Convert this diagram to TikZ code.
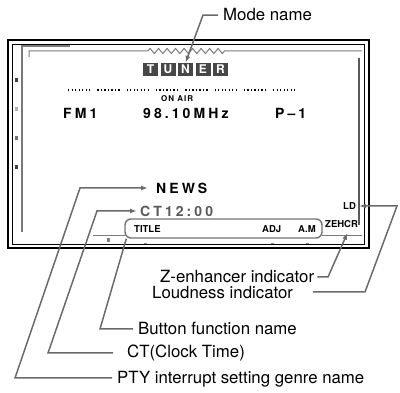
\documentclass[tikz,border=0pt]{standalone}
\usepackage{fontspec}
\setmainfont{TeX Gyre Heros}
\usetikzlibrary{arrows.meta,positioning,calc}

\definecolor{leadgray}{HTML}{6B6B6B}
\definecolor{rimgray}{HTML}{7A7A7A}
\newcommand{\lcdfont}{\fontsize{14}{16}\selectfont\bfseries\addfontfeature{LetterSpace=22}}

\begin{document}
\begin{tikzpicture}[x=1pt,y=-1pt,>={Latex[length=7pt,width=5pt]},
  lead/.style={draw=leadgray,line width=1.5pt},
  rim/.style={draw=rimgray,line width=1.4pt},
  lcd/.style={anchor=west,inner sep=0pt,font=\lcdfont},
  tag/.style={anchor=west,inner sep=0pt,font=\fontsize{9.5}{11}\selectfont\bfseries},
  call/.style={anchor=base west,inner sep=0pt,font=\fontsize{16.8}{20}\selectfont},
  modekey/.style={fill=black!72,text=white,minimum width=15pt,minimum height=13pt,inner sep=0pt,font=\fontsize{12}{12}\selectfont\bfseries}]
\useasboundingbox (0,0) rectangle (400,393);
% display frame
\draw[line width=2.5pt] (8,40) rectangle (369,248);
\draw[line width=0.9pt] (12,44) rectangle (364.5,244);
\draw[rim] (22,232) -- (22,46) -- (70,46);
\draw[rim,line width=1pt] (29,57) -- (29,51) -- (148,51)
  \foreach \i in {1,...,9} { -- ++(2.1,-2.5) -- ++(4.25,5) -- ++(2.15,-2.5) } -- (362,51);
\draw[draw=black!65,line width=2.5pt] (359,58) -- (359,225);
\draw[rim,line width=1pt] (93,235.5) -- (125,235.5);
\draw[rim,line width=1pt] (322,235.5) -- (362,235.5);
\foreach \yy/\cc in {80/black!75,109/black!30,138/black!55,167/black!75}
  \fill[\cc] (14.5,\yy-1.75) rectangle ++(3.5,3.5);
\fill[black!50] (106.5,238.5) rectangle ++(3.5,3.5);
\foreach \xx in {145,272,307}
  \draw[black!45,line width=0.8pt] (\xx-1.5,243) -- ++(3,0);

% mode name keys
\foreach \ch [count=\k from 0] in {T,U,N,E,R}
  \node[modekey] (tu-\ch) at ({150.5+\k*17.5},69.5) {\ch};

% display contents
\foreach \i in {0,...,7}
  \draw[line width=1.3pt,dash pattern=on 1.3pt off 2.2pt] ({68+\i*29.3},90) -- ++(24,0);
\node[anchor=west,inner sep=0pt,font=\fontsize{8}{9}\selectfont\bfseries\addfontfeature{LetterSpace=12}] (onair) at (161,99) {ON AIR};
\node[lcd] (band) at (63,113) {FM1};
\node[lcd] (freq) at (143,113) {98.10MHz};
\node[lcd] (preset) at (275,113) {P--1};
\node[lcd] (news) at (156,188) {NEWS};
\node[lcd,text=black!65] (clock) at (140,211) {CT12:00};
\node[draw=black!55,line width=1.4pt,rounded corners=6pt,minimum width=197pt,minimum height=19pt,inner sep=0pt] (fbar) at (223.5,228.5) {};
\node[tag] (title) at (134,229) {TITLE};
\node[tag] (adj) at (262,229) {ADJ};
\node[tag] (am) at (298,229) {A.M};
\node[tag] (ld) at (343,206) {LD};
\node[tag] (zehcr) at (325,224) {ZEHCR};

% callouts
\node[call] (lbmode) at (223,21) {Mode name};
\node[call] (lbzeh) at (160,283) {Z-enhancer indicator};
\node[call] (lbloud) at (152,299) {Loudness indicator};
\node[call] (lbbtn) at (138,335) {Button function name};
\node[call] (lbct) at (127,358) {CT(Clock Time)};
\node[call] (lbpty) at (117,384) {PTY interrupt setting genre name};

\coordinate (ptyk) at (15,378); \coordinate (newsk) at (80,188);
\coordinate (ctlo) at (48,353); \coordinate (cthi) at (97,211);
\coordinate (btnk) at (100,329);
\coordinate (zk) at (328,277);
\coordinate (ldlo) at (365,292); \coordinate (ldhi) at (397,206);

\draw[lead,->] ([xshift=-5pt]lbmode.west) -- ++(-15,0) -- (tu-N.north);
\draw[lead,->] ([xshift=-5pt]lbpty.west |- ptyk) -- (ptyk) -- (newsk) -- ([xshift=-8pt]news.west);
\draw[lead,->] ([xshift=-14pt]lbct.west |- ctlo) -- (ctlo) -- (cthi) -- ([xshift=-3pt]clock.west);
\draw[lead] ([xshift=-5pt]lbbtn.west |- btnk) -- (btnk) -- ([xshift=2pt]fbar.south west);
\draw[lead,->] ([xshift=3pt]lbzeh.east |- zk) -- (zk) -- ([xshift=6pt,yshift=-5pt]zehcr.south);
\draw[lead,->] ([xshift=20pt]lbloud.east |- ldlo) -- (ldlo) -- (ldhi) -- ([xshift=3pt]ld.east);
\end{tikzpicture}
\end{document}
